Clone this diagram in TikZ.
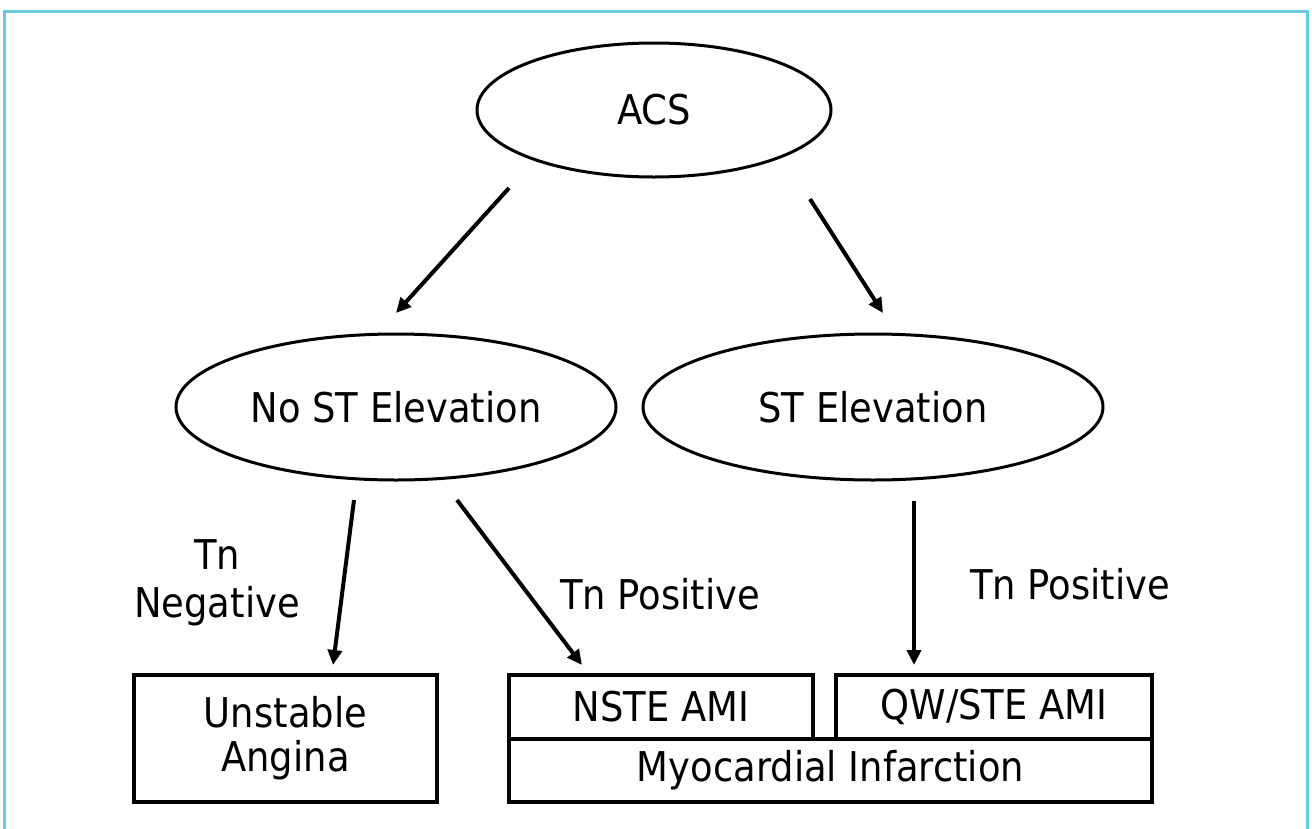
\documentclass[tikz,border=0pt]{standalone}
\usepackage{fontspec}
\setmainfont{DejaVu Sans}[FakeStretch=0.9]
\usetikzlibrary{shapes.geometric,arrows.meta}
\definecolor{frame}{RGB}{104,202,222}
\begin{document}
\begin{tikzpicture}[x=1pt,y=-1pt,
  txt/.style={font=\fontsize{41}{48}\selectfont, inner sep=0pt},
  oval/.style={ellipse, draw, line width=3pt, inner sep=0pt, font=\fontsize{41}{48}\selectfont},
  box/.style={rectangle, draw, line width=4pt, inner sep=0pt, align=center, font=\fontsize{41}{44}\selectfont},
  arr/.style={line width=4pt, -{Triangle[length=15pt,width=14pt]}}]
\useasboundingbox (0,0) rectangle (1312,828);
\draw[frame, line width=3pt] (4.7,840) -- (4.7,11.3) -- (1307.5,11.3) -- (1307.5,840);

\node[oval, minimum width=354pt, minimum height=134pt] (acs) at (654,110) {ACS};
\node[oval, minimum width=440pt, minimum height=146pt] (nost) at (396,407) {No ST Elevation};
\node[oval, minimum width=460pt, minimum height=146pt] (st) at (873,407) {ST Elevation};

\node[box, minimum width=303pt, minimum height=127pt] (ua) at (285.5,738.5) {Unstable\\Angina};
\node[box, minimum width=304pt, minimum height=64pt] (nste) at (661,707) {NSTE AMI};
\node[box, minimum width=316pt, minimum height=64pt] (qw) at (994,707) {QW/STE AMI};
\node[box, minimum width=643pt, minimum height=63pt] (mi) at (830.5,770.5) {Myocardial Infarction};

\node[txt, align=center, font=\fontsize{41}{48}\selectfont] (tnneg) at (217,583) {Tn\\Negative};
\node[txt, anchor=base] (tnpos1) at (660,609) {Tn Positive};
\node[txt, anchor=base] (tnpos2) at (1070,599) {Tn Positive};

\coordinate (a1s) at (509,188);
\coordinate (a1e) at (396,313);
\coordinate (a2s) at (810,199);
\coordinate (a2e) at (883,313);
\coordinate (a3s) at (354,500);
\coordinate (a3e) at (333,665);
\coordinate (a4s) at (457,500);
\coordinate (a4e) at (582,665);
\coordinate (a5s) at (914,501);
\coordinate (a5e) at (914,665);

\draw[arr] (a1s) -- (a1e);
\draw[arr] (a2s) -- (a2e);
\draw[arr] (a3s) -- (a3e);
\draw[arr] (a4s) -- (a4e);
\draw[arr] (a5s) -- (a5e);
\end{tikzpicture}
\end{document}
